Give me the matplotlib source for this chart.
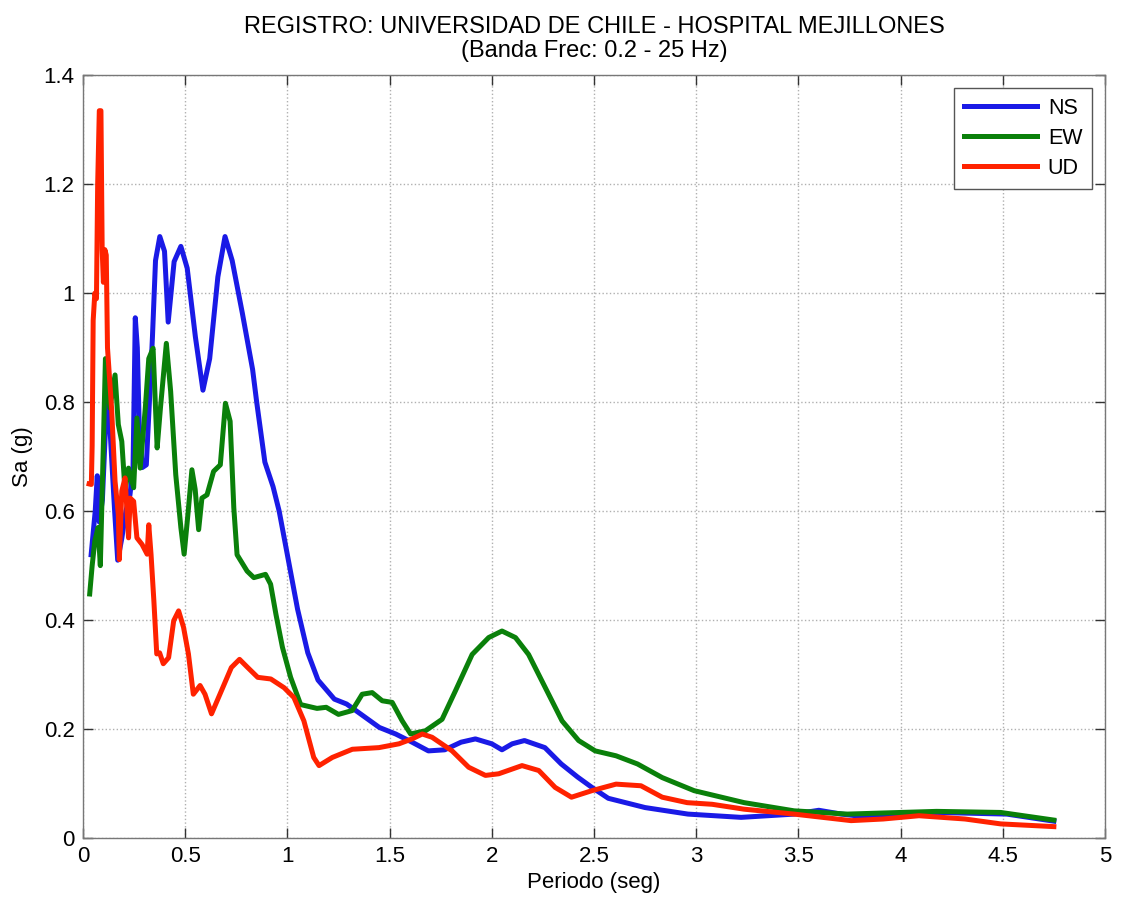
import numpy as np
import matplotlib
matplotlib.use('Agg')
import matplotlib.pyplot as plt

# Espectro de aceleraciones, periodo (seg) vs Sa (g)
ns_t = [0.04, 0.06, 0.07, 0.08, 0.095, 0.11, 0.125, 0.14, 0.155, 0.17, 0.19, 0.21,
        0.23, 0.245, 0.256, 0.266, 0.275, 0.29, 0.31, 0.325, 0.34, 0.355, 0.376,
        0.399, 0.417, 0.446, 0.479, 0.51, 0.55, 0.587, 0.62, 0.66, 0.695, 0.73,
        0.78, 0.83, 0.85, 0.89, 0.93, 0.96, 1.0, 1.05, 1.1, 1.15, 1.23, 1.29,
        1.35, 1.45, 1.53, 1.61, 1.69, 1.77, 1.85, 1.92, 2.0, 2.05, 2.1, 2.16,
        2.26, 2.34, 2.42, 2.49, 2.57, 2.75, 2.96, 3.22, 3.48, 3.6, 3.71, 3.83,
        4.18, 4.52, 4.75]
ns_sa = [0.52, 0.60, 0.665, 0.58, 0.62, 0.75, 0.80, 0.70, 0.60, 0.51, 0.55, 0.60,
         0.63, 0.68, 0.955, 0.90, 0.76, 0.68, 0.685, 0.80, 0.92, 1.06, 1.104,
         1.077, 0.947, 1.058, 1.086, 1.046, 0.92, 0.822, 0.88, 1.03, 1.104, 1.06,
         0.963, 0.86, 0.80, 0.69, 0.645, 0.60, 0.52, 0.42, 0.34, 0.29, 0.255, 0.246,
         0.23, 0.203, 0.191, 0.176, 0.160, 0.162, 0.176, 0.182, 0.173, 0.162, 0.173, 0.179,
         0.166, 0.136, 0.112, 0.093, 0.073, 0.056, 0.044, 0.038, 0.044, 0.051, 0.044, 0.039,
         0.047, 0.044, 0.031]

ew_t = [0.033, 0.045, 0.058, 0.074, 0.085, 0.099, 0.11, 0.12, 0.132, 0.157, 0.173,
        0.19, 0.206, 0.223, 0.248, 0.264, 0.28, 0.305, 0.322, 0.343, 0.363, 0.379,
        0.408, 0.429, 0.454, 0.479, 0.495, 0.515, 0.533, 0.549, 0.566, 0.582,
        0.607, 0.639, 0.672, 0.697, 0.72, 0.738, 0.754, 0.803, 0.836, 0.893,
        0.918, 0.944, 0.976, 1.016, 1.065, 1.145, 1.19, 1.25, 1.317, 1.366,
        1.415, 1.464, 1.513, 1.562, 1.603, 1.676, 1.757, 1.822, 1.904, 1.985,
        2.05, 2.116, 2.18, 2.262, 2.344, 2.425, 2.506, 2.608, 2.713, 2.834,
        2.99, 3.235, 3.479, 3.74, 4.0, 4.176, 4.49, 4.75]
ew_sa = [0.448, 0.50, 0.545, 0.57, 0.50, 0.71, 0.88, 0.83, 0.789, 0.85, 0.759,
         0.728, 0.637, 0.679, 0.643, 0.771, 0.679, 0.789, 0.88, 0.899, 0.716, 0.789,
         0.908, 0.82, 0.667, 0.57, 0.521, 0.60, 0.676, 0.64, 0.566, 0.624,
         0.63, 0.673, 0.685, 0.798, 0.765, 0.606, 0.52, 0.49, 0.478, 0.484,
         0.466, 0.411, 0.35, 0.295, 0.245, 0.238, 0.240, 0.227, 0.234, 0.264,
         0.267, 0.252, 0.249, 0.215, 0.191, 0.197, 0.218, 0.270, 0.337, 0.368,
         0.380, 0.368, 0.337, 0.276, 0.215, 0.179, 0.160, 0.151, 0.136, 0.111,
         0.087, 0.065, 0.050, 0.044, 0.047, 0.049, 0.047, 0.033]

ud_t = [0.03, 0.041, 0.045, 0.05, 0.058, 0.066, 0.072, 0.08, 0.088, 0.094, 0.10,
        0.107, 0.114, 0.12, 0.14, 0.157, 0.173, 0.178, 0.19, 0.206, 0.223, 0.231,
        0.248, 0.264, 0.289, 0.314, 0.322, 0.333, 0.347, 0.361, 0.375, 0.393,
        0.419, 0.444, 0.468, 0.492, 0.516, 0.540, 0.573, 0.597, 0.629, 0.677,
        0.726, 0.766, 0.806, 0.855, 0.919, 0.984, 1.032, 1.081, 1.129, 1.155,
        1.22, 1.318, 1.448, 1.546, 1.61, 1.66, 1.708, 1.806, 1.887, 1.969,
        2.034, 2.148, 2.23, 2.31, 2.39, 2.49, 2.608, 2.73, 2.834, 2.956,
        3.078, 3.235, 3.479, 3.758, 3.915, 4.09, 4.315, 4.49, 4.75]
ud_sa = [0.65, 0.649, 0.72, 0.95, 1.0, 0.99, 1.2, 1.335, 1.335, 1.08, 1.02,
         1.08, 1.07, 0.90, 0.789, 0.655, 0.594, 0.511, 0.637, 0.661, 0.551, 0.624,
         0.618, 0.551, 0.539, 0.521, 0.575, 0.521, 0.435, 0.338, 0.34, 0.32,
         0.331, 0.399, 0.417, 0.387, 0.338, 0.264, 0.280, 0.264, 0.228, 0.270,
         0.313, 0.328, 0.313, 0.295, 0.292, 0.276, 0.258, 0.215, 0.148, 0.133,
         0.148, 0.163, 0.166, 0.173, 0.182, 0.191, 0.185, 0.160, 0.130, 0.115,
         0.118, 0.133, 0.124, 0.093, 0.075, 0.087, 0.099, 0.096, 0.075, 0.065,
         0.062, 0.053, 0.044, 0.032, 0.035, 0.041, 0.035, 0.026, 0.021]

plt.rcParams['font.family'] = ['Liberation Sans', 'DejaVu Sans']

fig = plt.figure(figsize=(11.21, 9.07), dpi=100)
ax = fig.add_axes([0.074, 0.076, 0.9117, 0.841])

ax.plot(ns_t, ns_sa, color='#1a1ae6', lw=3.6, label='NS', solid_joinstyle='round')
ax.plot(ew_t, ew_sa, color='#0a800a', lw=3.6, label='EW', solid_joinstyle='round')
ax.plot(ud_t, ud_sa, color='#ff2200', lw=3.6, label='UD', solid_joinstyle='round')

ax.set_xlim(0, 5)
ax.set_ylim(0, 1.4)
ax.set_xticks(np.arange(0, 5.01, 0.5))
ax.set_xticklabels(['0', '0.5', '1', '1.5', '2', '2.5', '3', '3.5', '4', '4.5', '5'])
ax.set_yticks(np.arange(0, 1.41, 0.2))
ax.set_yticklabels(['0', '0.2', '0.4', '0.6', '0.8', '1', '1.2', '1.4'])
ax.tick_params(direction='in', length=7, width=1, top=True, right=True,
               labelsize=16, pad=6, colors='#333333', labelcolor='black')
ax.grid(True, linestyle=':', color='#b0b0b0', linewidth=1)
for s in ax.spines.values():
    s.set_color('#777777')
    s.set_linewidth(1)

ax.set_xlabel('Periodo (seg)', fontsize=16, labelpad=3)
ax.set_ylabel('Sa (g)', fontsize=16, labelpad=8)
ax.set_title('REGISTRO: UNIVERSIDAD DE CHILE - HOSPITAL MEJILLONES\n(Banda Frec: 0.2 - 25 Hz)',
             fontsize=17, pad=13, linespacing=1.12)

leg = ax.legend(loc='upper right', fontsize=15.5, handlelength=3.4, fancybox=False,
                framealpha=1, edgecolor='#555555', borderaxespad=0.6,
                labelspacing=0.42, handletextpad=0.5, borderpad=0.45)
leg.get_frame().set_linewidth(1)

fig.savefig('out.png', dpi=100)
